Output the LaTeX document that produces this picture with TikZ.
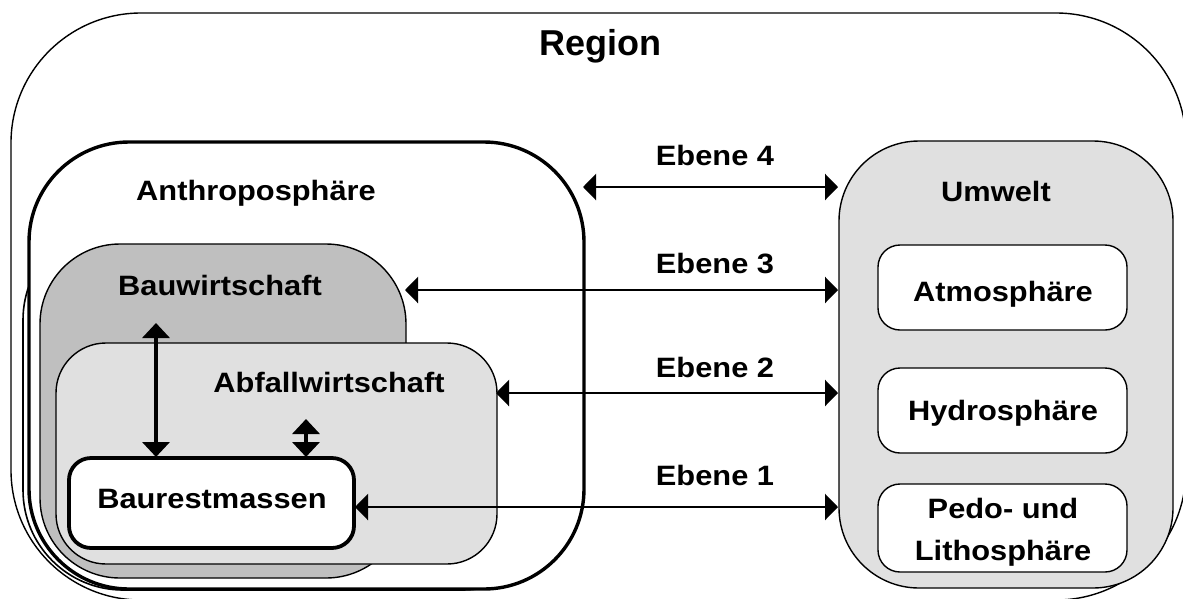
\documentclass[tikz,border=0pt]{standalone}
\usepackage{fontspec}
\setmainfont{Liberation Sans}[FakeStretch=1.1]
\newfontfamily\regionfont{Liberation Sans}
\usetikzlibrary{arrows.meta}
\definecolor{darkfill}{gray}{0.75}
\definecolor{lightfill}{gray}{0.88}
\begin{document}
\begin{tikzpicture}[x=1pt,y=-1pt,
  box/.style={draw, rounded corners=#1, inner sep=0pt, outer sep=0pt, anchor=north west},
  thinline/.style={line width=1.4pt},
  thickline/.style={line width=3.4pt},
  lbl/.style={anchor=base, inner sep=0pt, font=\fontsize{28}{32}\selectfont\bfseries},
  harrow/.style={line width=2.4pt, {Triangle[length=13pt,width=26pt]}-{Triangle[length=13pt,width=26pt]}},
  varrow/.style={line width=3.6pt, {Triangle[length=15pt,width=27pt]}-{Triangle[length=15pt,width=27pt]}}]
\useasboundingbox (0,0) rectangle (1183,598);
% boxes
\node[box=130pt, thinline, minimum width=1175pt, minimum height=587pt] (region) at (11,13) {};
\node[box=100pt, line width=1.6pt, minimum width=540pt, minimum height=370pt] (shadow) at (23,220) {};
\node[box=100pt, thickline, fill=white, minimum width=555pt, minimum height=447pt] (anthro) at (29,142) {};
\node[box=80pt, thinline, fill=darkfill, minimum width=366pt, minimum height=334pt] (bau) at (40,244) {};
\node[box=50pt, thinline, fill=lightfill, minimum width=441pt, minimum height=221pt] (abfall) at (56,343) {};
\node[box=22pt, line width=3.8pt, fill=white, minimum width=285pt, minimum height=90pt] (rest) at (69,458) {};
\node[box=80pt, thinline, fill=lightfill, minimum width=334pt, minimum height=447pt] (umwelt) at (839,141) {};
\node[box=22pt, thinline, fill=white, minimum width=249pt, minimum height=85pt] (atmo) at (878,245) {};
\node[box=22pt, thinline, fill=white, minimum width=249pt, minimum height=85pt] (hydro) at (878,368) {};
\node[box=22pt, thinline, fill=white, minimum width=249pt, minimum height=88pt] (pedo) at (878,484) {};
% arrow end points
\coordinate (e4a) at (583,187); \coordinate (e4b) at (838,187);
\coordinate (e3a) at (405,290); \coordinate (e3b) at (838,290);
\coordinate (e2a) at (496,393); \coordinate (e2b) at (838,393);
\coordinate (e1a) at (355,507); \coordinate (e1b) at (838,507);
\coordinate (v1a) at (156,323); \coordinate (v1b) at (156,457);
\coordinate (v2a) at (306,419); \coordinate (v2b) at (306,457);
\draw[harrow] (e4a) -- (e4b);
\draw[harrow] (e3a) -- (e3b);
\draw[harrow] (e2a) -- (e2b);
\draw[harrow] (e1a) -- (e1b);
\draw[varrow] (v1a) -- (v1b);
\draw[varrow] (v2a) -- (v2b);
% labels
\node[anchor=base, inner sep=0pt, font=\fontsize{36}{40}\regionfont\bfseries] (tregion) at (600,55) {Region};
\node[lbl] (tanthro) at (256,200) {Anthroposphäre};
\node[lbl] (tbau) at (220,295) {Bauwirtschaft};
\node[lbl] (tabfall) at (329,392) {Abfallwirtschaft};
\node[lbl] (trest) at (212,508) {Baurestmassen};
\node[lbl] (tumwelt) at (996,201) {Umwelt};
\node[lbl] (tatmo) at (1003,301) {Atmosphäre};
\node[lbl] (thydro) at (1003,420) {Hydrosphäre};
\node[lbl] (tpedo) at (1003,518) {Pedo- und};
\node[lbl] (tlitho) at (1003,560) {Lithosphäre};
\node[lbl] (te4) at (715,165) {Ebene 4};
\node[lbl] (te3) at (715,273) {Ebene 3};
\node[lbl] (te2) at (715,377) {Ebene 2};
\node[lbl] (te1) at (715,485) {Ebene 1};
\end{tikzpicture}
\end{document}
